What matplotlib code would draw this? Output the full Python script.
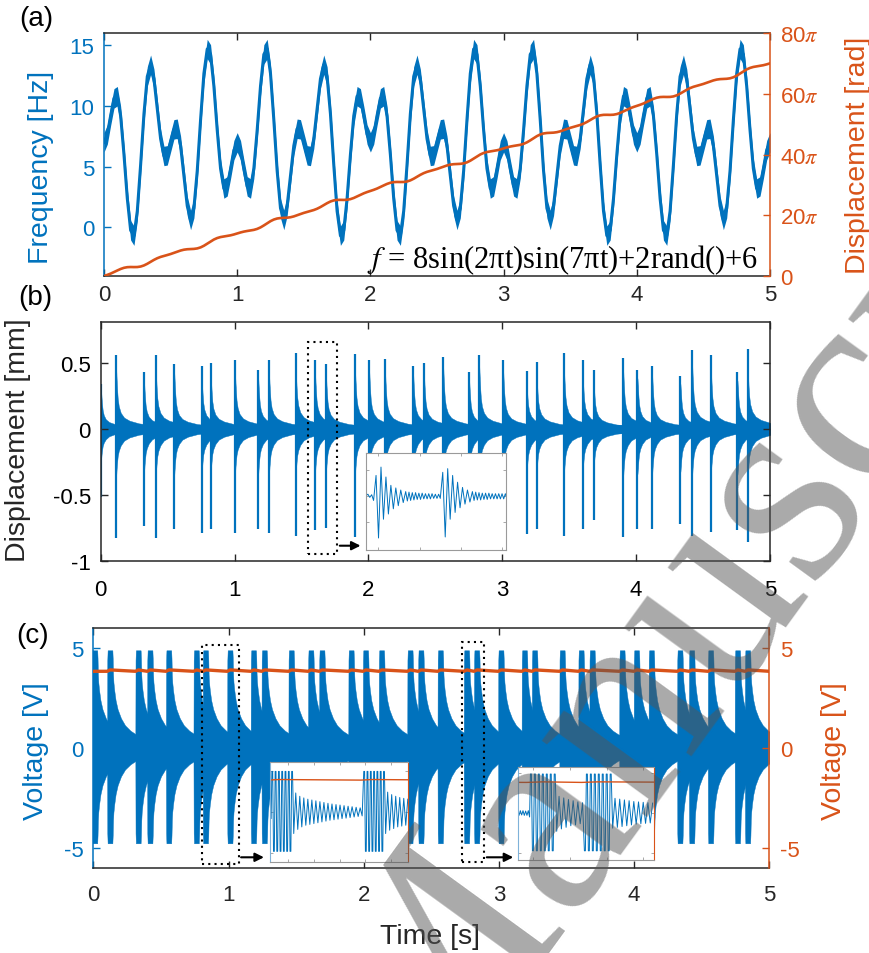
import numpy as np
import matplotlib
matplotlib.use("Agg")
import matplotlib.pyplot as plt
from matplotlib.patches import Rectangle, FancyArrowPatch

plt.rcParams.update({
    "font.family": ["Liberation Sans", "DejaVu Sans"],
    "mathtext.fontset": "stix",
    "axes.unicode_minus": False,
})

BLUE = "#0072BD"
ORANGE = "#D95319"
AXC = "#262626"
GRAY = "#9a9a9a"

# (a) excitation frequency, one sample every 0.025 s
t_freq = np.linspace(0, 5, 201)
freq_hz = [
    7.00, 7.65, 9.20, 10.62, 10.80, 9.17, 5.99, 2.37, -0.24, -0.68,
    1.34, 5.16, 9.35, 12.42, 13.39, 12.23, 9.76, 7.29, 5.88, 5.93,
    7.00, 8.07, 8.12, 6.72, 4.24, 1.77, 0.61, 1.58, 4.65, 8.85,
    12.66, 14.68, 14.24, 11.63, 8.01, 4.84, 3.20, 3.38, 4.80, 6.35,
    7.00, 6.35, 4.80, 3.38, 3.20, 4.84, 8.01, 11.63, 14.24, 14.68,
    12.66, 8.85, 4.65, 1.58, 0.61, 1.77, 4.24, 6.72, 8.12, 8.07,
    7.00, 5.93, 5.88, 7.29, 9.76, 12.23, 13.39, 12.42, 9.35, 5.16,
    1.34, -0.68, -0.24, 2.37, 5.99, 9.17, 10.80, 10.62, 9.20, 7.65,
    7.00, 7.65, 9.20, 10.62, 10.80, 9.17, 5.99, 2.37, -0.24, -0.68,
    1.34, 5.16, 9.35, 12.42, 13.39, 12.23, 9.76, 7.29, 5.88, 5.93,
    7.00, 8.07, 8.12, 6.72, 4.24, 1.77, 0.61, 1.58, 4.65, 8.85,
    12.66, 14.68, 14.24, 11.63, 8.01, 4.84, 3.20, 3.38, 4.80, 6.35,
    7.00, 6.35, 4.80, 3.38, 3.20, 4.84, 8.01, 11.63, 14.24, 14.68,
    12.66, 8.85, 4.65, 1.58, 0.61, 1.77, 4.24, 6.72, 8.12, 8.07,
    7.00, 5.93, 5.88, 7.29, 9.76, 12.23, 13.39, 12.42, 9.35, 5.16,
    1.34, -0.68, -0.24, 2.37, 5.99, 9.17, 10.80, 10.62, 9.20, 7.65,
    7.00, 7.65, 9.20, 10.62, 10.80, 9.17, 5.99, 2.37, -0.24, -0.68,
    1.34, 5.16, 9.35, 12.42, 13.39, 12.23, 9.76, 7.29, 5.88, 5.93,
    7.00, 8.07, 8.12, 6.72, 4.24, 1.77, 0.61, 1.58, 4.65, 8.85,
    12.66, 14.68, 14.24, 11.63, 8.01, 4.84, 3.20, 3.38, 4.80, 6.35,
    7.00,
]

# impact instants [s] and peak displacement of each impact [mm]
events = [0.003, 0.115, 0.324, 0.411, 0.550, 0.754, 0.822, 1.003, 1.177, 1.257,
          1.456, 1.601, 1.683, 1.899, 2.006, 2.124, 2.335, 2.415, 2.559, 2.753,
          2.828, 3.007, 3.181, 3.256, 3.460, 3.600, 3.682, 3.903, 4.010, 4.120,
          4.331, 4.418, 4.558, 4.757, 4.832]
spike_top = [0.34, 0.56, 0.43, 0.56, 0.49, 0.48, 0.50, 0.52, 0.45, 0.52,
             0.58, 0.52, 0.49, 0.57, 0.52, 0.53, 0.48, 0.50, 0.55, 0.43,
             0.56, 0.52, 0.44, 0.51, 0.58, 0.52, 0.45, 0.54, 0.45, 0.48,
             0.40, 0.60, 0.56, 0.43, 0.61]
spike_bottom = [-0.52, -0.83, -0.74, -0.83, -0.76, -0.79, -0.76, -0.79, -0.76, -0.79,
                -0.81, -0.77, -0.75, -0.82, -0.77, -0.80, -0.76, -0.77, -0.80, -0.77,
                -0.80, -0.78, -0.80, -0.76, -0.81, -0.76, -0.69, -0.82, -0.76, -0.76,
                -0.72, -0.81, -0.78, -0.77, -0.86]

# ringing envelope after one impact (offset [s], upper / lower [mm])
pulse_b_dt = [-0.005, -0.002, 0.0, 0.004, 0.008, 0.012, 0.02, 0.035, 0.06, 0.1, 0.17, 0.25, 0.45]
pulse_b_up = [0.05, 0.10, 0.47, 0.37, 0.29, 0.23, 0.17, 0.12, 0.085, 0.062, 0.042, 0.032, 0.025]
pulse_b_low = [-0.05, -0.10, -0.36, -0.29, -0.24, -0.20, -0.16, -0.12, -0.085, -0.062, -0.042, -0.032, -0.025]

# voltage burst envelope after one impact (offset [s], upper / lower [V])
pulse_c_dt = [-0.013, -0.0115, -0.009, 0.026, 0.0285, 0.031, 0.034, 0.04, 0.05, 0.065,
              0.09, 0.12, 0.16, 0.2, 0.28, 0.45]
pulse_c_up = [0.6, 4.4, 4.9, 4.9, 4.5, 3.7, 3.3, 2.9, 2.4, 1.95,
              1.5, 1.15, 0.88, 0.7, 0.52, 0.4]
pulse_c_low = [-0.6, -4.25, -4.75, -4.75, -4.35, -3.6, -3.2, -2.8, -2.3, -1.85,
               -1.4, -1.06, -0.8, -0.62, -0.46, -0.36]

# rectified (DC) voltage [V]
dc_low, dc_high = 3.85, 3.92

# zoomed traces: (half period [s], turning-point values)
zoom_b = [
    (0.0023, [0.01, 0.04, -0.02, 0.03]),
    (0.003, [-0.08, 0.40, -0.80, 0.56, -0.44, 0.37, -0.34, 0.21, -0.24, 0.16, -0.18, 0.12, -0.12]),
    (0.002, [0.09, -0.09, 0.08, -0.08, 0.07, -0.07, 0.07, -0.06, 0.06, -0.06, 0.06,
             -0.05, 0.05, -0.05, 0.05, -0.05, 0.05, -0.04, 0.04, -0.04, 0.04]),
    (0.003, [-0.04, 0.46, -0.78, 0.53, -0.44, 0.40, -0.31, 0.27, -0.22, 0.17, -0.15, 0.12, -0.11]),
    (0.002, [0.09, -0.08, 0.08, -0.07, 0.07, -0.07, 0.06, -0.06, 0.06, -0.06, 0.06,
             -0.05, 0.05, -0.05, 0.05, -0.05, 0.05, -0.05, 0.05, -0.05, 0.05, -0.05]),
]
zoom_c1 = [
    (0.0022, [0.3, -0.8]),
    (0.0032, [4.9, -4.75, 4.9, -4.75, 4.9, -4.75, 4.9, -4.75, 4.9, -4.75, 4.9, -4.75, 4.9]),
    (0.0039, [-2.6, 2.3, -2.1, 1.9, -1.8, 1.7, -1.6, 1.55, -1.5, 1.45, -1.4, 1.35,
              -1.3, 1.25, -1.2, 1.15, -1.1, 1.05, -1.0, 0.97, -0.94, 0.9, -0.87, 0.84,
              -0.8, 0.77, -0.74, 0.7, -0.67, 0.64, -0.6, 0.57, -0.54, 0.5, -0.47]),
    (0.0032, [4.9, -4.75, 4.9, -4.75, 4.9, -4.75, 4.9, -4.75, 4.9, -4.75, 4.9, -4.75, 4.9]),
    (0.0039, [-2.6, 2.4, -2.2, 2.1, -2.0, 1.9, -1.8, 1.75, -1.7, 1.65, -1.6, 1.55]),
]
zoom_c2 = [
    (0.0018, [0.2, -0.3, 0.3, -0.25, 0.3, -0.3, 0.25, -0.3, 0.3, -0.5]),
    (0.0027, [4.9, -4.75, 4.9, -4.75, 4.9, -4.75, 4.9, -4.75, 4.9, -4.75, 4.9, -4.75, 4.9]),
    (0.0032, [-2.3, 2.1, -2.0, 1.9, -1.8, 1.7, -1.6, 1.55, -1.5, 1.4, -1.35, 1.3]),
    (0.0027, [-4.75, 4.9, -4.75, 4.9, -4.75, 4.9, -4.75, 4.9, -4.75, 4.9, -4.75, 4.9, -4.75, 4.9]),
    (0.0032, [-1.9, 1.85, -1.8, 1.75, -1.7, 1.65, -1.6, 1.55, -1.5, 1.45, -1.4, 1.4,
              -1.35, 1.35, -1.3, 1.3, -1.25, 1.25]),
]

W, H = 870, 954
TICK_FS = 16


def box(l, t, r, b):
    return [l / W, 1 - b / H, (r - l) / W, (b - t) / H]


def trace(start, segments, sat=None):
    ts, vs = [], []
    t = start
    for step, vals in segments:
        for v in vals:
            if sat is not None and abs(v) >= sat:
                ts += [t - 0.25 * step, t + 0.25 * step]
                vs += [v, v]
            else:
                ts.append(t)
                vs.append(v)
            t += step
    return ts, vs


def style(ax, left=AXC, right=AXC):
    ax.tick_params(direction="in", length=5, width=1, labelsize=TICK_FS,
                   top=True, colors=AXC)
    for s in ("top", "bottom"):
        ax.spines[s].set_color(AXC)
    ax.spines["left"].set_color(left)
    ax.spines["right"].set_color(right)
    for s in ax.spines.values():
        s.set_linewidth(1.1)


fig = plt.figure(figsize=(W / 100, H / 100), dpi=100)

# ---------------- (a) ----------------
ax_a = fig.add_axes(box(104, 34, 770, 277))
f = np.array(freq_hz)
ax_a.fill_between(t_freq, f - 0.8, f + 0.8, color=BLUE, lw=0)
ax_a.plot(t_freq, f, color=BLUE, lw=2.2)
ax_a.set_xlim(0, 5)
ax_a.set_ylim(-4, 16)
ax_a.set_yticks([0, 5, 10, 15])
ax_a.set_xticks(range(6))
style(ax_a, left=BLUE)
ax_a.spines["right"].set_visible(False)
ax_a.tick_params(axis="y", colors=BLUE, pad=7)
ax_a.tick_params(axis="x", pad=6)

ax_a2 = ax_a.twinx()
phase = 2 * np.pi * np.concatenate([[0], np.cumsum((f[1:] + f[:-1]) / 2 * np.diff(t_freq))])
ax_a2.plot(t_freq, phase, color=ORANGE, lw=1.9)
ax_a2.set_ylim(0, 80 * np.pi)
ax_a2.set_yticks([0, 20 * np.pi, 40 * np.pi, 60 * np.pi, 80 * np.pi])
ax_a2.set_yticklabels(["0", r"20$\pi$", r"40$\pi$", r"60$\pi$", r"80$\pi$"])
for s in ("left", "top", "bottom"):
    ax_a2.spines[s].set_visible(False)
ax_a2.spines["right"].set_color(ORANGE)
ax_a2.spines["right"].set_linewidth(1.1)
ax_a2.tick_params(direction="in", length=5, width=1, labelsize=TICK_FS, colors=ORANGE, pad=7)
ax_a2.text(0.982, 0.035, r"$f$ = 8sin(2πt)sin(7πt)+2rand()+6", transform=ax_a.transAxes,
           ha="right", va="baseline", fontsize=22, family="Liberation Serif", color="k")

# ---------------- (b) ----------------
ax_b = fig.add_axes(box(100.7, 323.3, 770, 561.7))
for ti, top, bot in zip(events, spike_top, spike_bottom):
    tt = ti + np.array(pulse_b_dt)
    ax_b.fill_between(tt, np.array(pulse_b_low) * bot / -0.8,
                      np.array(pulse_b_up) * top / 0.55, color=BLUE, lw=0.3)
ax_b.vlines(events, spike_bottom, spike_top, color=BLUE, lw=1.6)
ax_b.set_xlim(0, 5)
ax_b.set_ylim(-1, 0.81)
ax_b.set_yticks([-1, -0.5, 0, 0.5])
ax_b.set_yticklabels(["-1", "-0.5", "0", "0.5"])
ax_b.set_xticks(range(6))
style(ax_b)
ax_b.tick_params(right=True, labelcolor="k")
ax_b.tick_params(axis="y", pad=7)
ax_b.tick_params(axis="x", pad=13)
ax_b.add_patch(Rectangle((1.546, -0.947), 1.763 - 1.546, 0.657 + 0.947, fill=False,
                         ls=(0, (1, 2)), lw=1.5, ec="k", zorder=5, clip_on=False))

ins_b = fig.add_axes(box(366, 454, 506, 551))
tb, vb = trace(1.585, zoom_b)
ins_b.plot(tb, vb, color=BLUE, lw=0.7)
ins_b.set_xlim(1.585, 1.755)
ins_b.set_ylim(-1.03, 0.83)
ins_b.set_xticks([1.6, 1.65, 1.7, 1.75])
ins_b.set_yticks([-0.5, 0, 0.5])

# ---------------- (c) ----------------
ax_c = fig.add_axes(box(93.3, 629.3, 769.3, 869.3))
for ti in events:
    tt = ti + np.array(pulse_c_dt)
    ax_c.fill_between(tt, pulse_c_low, pulse_c_up, color=BLUE, lw=0.3)
ax_c.set_xlim(0, 5)
ax_c.set_ylim(-6, 6)
ax_c.set_yticks([-5, 0, 5])
ax_c.set_yticklabels(["-5", "0", "5"])
ax_c.set_xticks(range(6))
style(ax_c, left=BLUE)
ax_c.spines["right"].set_visible(False)
ax_c.tick_params(axis="y", colors=BLUE, pad=7)
ax_c.tick_params(axis="x", pad=11)

dc_t = [0.0]
dc_v = [dc_low]
for ti in events[1:]:
    dc_t += [ti - 0.012, ti + 0.01]
    dc_v += [dc_low, dc_high]
dc_t.append(5.0)
dc_v.append(dc_low)

ax_c2 = ax_c.twinx()
ax_c2.plot(dc_t, dc_v, color=ORANGE, lw=2.4)
ax_c2.set_ylim(-6, 6)
ax_c2.set_yticks([-5, 0, 5])
ax_c2.set_yticklabels(["-5", "0", "5"])
for s in ("left", "top", "bottom"):
    ax_c2.spines[s].set_visible(False)
ax_c2.spines["right"].set_color(ORANGE)
ax_c2.spines["right"].set_linewidth(1.1)
ax_c2.tick_params(direction="in", length=5, width=1, labelsize=TICK_FS, colors=ORANGE, pad=8)

for x0, x1, y0, y1 in [(0.806, 1.08, -5.8, 5.17), (2.725, 2.89, -5.7, 5.3)]:
    ax_c2.add_patch(Rectangle((x0, y0), x1 - x0, y1 - y0, fill=False, ls=(0, (1, 2)),
                              lw=1.5, ec="k", zorder=5, clip_on=False))

ins_c1 = fig.add_axes(box(270, 763.3, 408.3, 862.7))
tc, vc = trace(0.815, zoom_c1, sat=4.7)
ins_c1.plot(tc, vc, color=BLUE, lw=0.7)
ins_c1.plot(dc_t, dc_v, color=ORANGE, lw=1.0)
ins_c1.set_xlim(0.815, 1.083)
ins_c1.set_ylim(-6, 6)
ins_c1.set_xticks([0.85, 0.9, 0.95, 1.0, 1.05])

ins_c2 = fig.add_axes(box(517.7, 768.3, 654.3, 860.7))
tc, vc = trace(2.729, zoom_c2, sat=4.7)
ins_c2.plot(tc, vc, color=BLUE, lw=0.7)
ins_c2.plot(dc_t, dc_v, color=ORANGE, lw=1.0)
ins_c2.set_xlim(2.729, 2.915)
ins_c2.set_ylim(-5.87, 5.75)
ins_c2.set_xticks([2.75, 2.8, 2.85, 2.9])

for ins in (ins_b, ins_c1, ins_c2):
    ins.tick_params(direction="in", length=2.5, width=0.6, colors=GRAY,
                    labelbottom=False, labelleft=False, top=True, right=True)
    for s in ins.spines.values():
        s.set_color(GRAY)
        s.set_linewidth(0.8)
for ins in (ins_c1, ins_c2):
    ins.set_yticks([-5, 0, 5])
    ins.spines["left"].set_color("#7fb2d9")
    ins.spines["right"].set_color(ORANGE)

for x0, x1, y in [(337, 363.3, 546.7), (238.3, 266.7, 858.3), (484, 516, 858.3)]:
    fig.add_artist(FancyArrowPatch((x0 / W, 1 - y / H), (x1 / W, 1 - y / H),
                                   transform=fig.transFigure, arrowstyle="-|>",
                                   mutation_scale=13, color="k", lw=1.5))

# axis titles and panel tags
fig.text(41 / W, 1 - 167 / H, "Frequency [Hz]", rotation=90, ha="center", va="center",
         fontsize=20.5, color=BLUE)
fig.text(858 / W, 1 - 155 / H, "Displacement [rad]", rotation=90, ha="center", va="center",
         fontsize=20.5, color=ORANGE)
fig.text(18 / W, 1 - 440 / H, "Displacement [mm]", rotation=90, ha="center", va="center",
         fontsize=20.5, color=AXC)
fig.text(36 / W, 1 - 751 / H, "Voltage [V]", rotation=90, ha="center", va="center",
         fontsize=20.5, color=BLUE)
fig.text(834 / W, 1 - 751 / H, "Voltage [V]", rotation=90, ha="center", va="center",
         fontsize=20.5, color=ORANGE)
fig.text(430 / W, 1 - 937 / H, "Time [s]", ha="center", va="center", fontsize=20.5, color=AXC)
for tag, x, y in [("(a)", 36, 19), ("(b)", 35, 298), ("(c)", 33, 636)]:
    fig.text(x / W, 1 - y / H, tag, ha="center", va="center", fontsize=20, color="k")

# diagonal watermark
fig.text(418 / W, 1 - 1122 / H, "Manuscript", rotation=54, rotation_mode="anchor",
         ha="left", va="baseline", fontsize=205, family="Liberation Serif",
         color="#555555", alpha=0.5, zorder=50)

fig.savefig("out.png", dpi=100)
